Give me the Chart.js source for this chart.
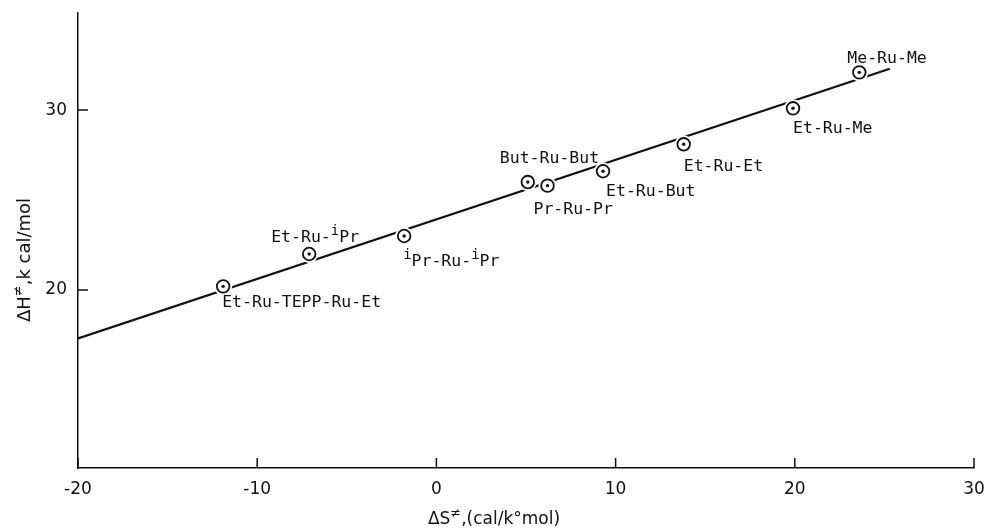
<!DOCTYPE html>
<html>
<head>
<meta charset="utf-8">
<script src="https://cdn.jsdelivr.net/npm/chart.js@4.4.0/dist/chart.umd.min.js"></script>
<style>
  html, body { margin: 0; background: #fff; }
  #wrap { width: 987px; height: 531px; }
</style>
</head>
<body>
<div id="wrap"><canvas id="chart"></canvas></div>
<script>
// ---------------------------
// Data
// ---------------------------
const complexes = ["Et-Ru-TEPP-Ru-Et", "Et-Ru-^iPr", "^iPr-Ru-^iPr", "But-Ru-But", "Pr-Ru-Pr",
                   "Et-Ru-But", "Et-Ru-Et", "Et-Ru-Me", "Me-Ru-Me"];
const entropyS  = [-11.9, -7.1, -1.8, 5.1, 6.2, 9.3, 13.8, 19.9, 23.6];
const enthalpyH = [20.2, 22.0, 23.0, 26.0, 25.8, 26.6, 28.1, 30.1, 32.1];

// fitted line, end points
const fitS = [-20, 25.3];
const fitH = [17.3, 32.3];

const xTicks = [-20, -10, 0, 10, 20, 30];
const yTicks = [20, 30];

const xTitle = "ΔS^≠,(cal/k°mol)";
const yTitle = "ΔH^≠,k cal/mol";

// label placement relative to each point (px): dx to left edge, dy to text middle
const labelOffsets = [[-1, 16], [-38, -16], [-1, 26], [-28, -23], [-14, 24],
                      [3, 20], [0, 22], [0, 20], [-12, -14]];

const INK = "#111";
const points = entropyS.map((x, i) => ({ x, y: enthalpyH[i] }));
const fitPts = fitS.map((x, i) => ({ x, y: fitH[i] }));

// ---------------------------
// Text helpers (^c = raised char)
// ---------------------------
function richParts(text){
  return text.split(/(\^.)/).filter(Boolean);
}

function richWidth(ctx, text, size, family, supSize){
  let w = 0;
  for(const p of richParts(text)){
    if(p[0] === "^"){ ctx.font = `${supSize}px ${family}`; w += ctx.measureText(p[1]).width; }
    else { ctx.font = `${size}px ${family}`; w += ctx.measureText(p).width; }
  }
  return w;
}

function drawRich(ctx, text, x, y, size, family, supSize, rise){
  let cx = x;
  for(const p of richParts(text)){
    if(p[0] === "^"){
      ctx.font = `${supSize}px ${family}`;
      ctx.fillText(p[1], cx, y - rise);
      cx += ctx.measureText(p[1]).width;
    }else{
      ctx.font = `${size}px ${family}`;
      ctx.fillText(p, cx, y);
      cx += ctx.measureText(p).width;
    }
  }
}

// ---------------------------
// Plugin: inward ticks, point labels, axis titles
// ---------------------------
const decor = {
  id: "decor",
  afterDraw(chart){
    const ctx = chart.ctx;
    const xs = chart.scales.x, ys = chart.scales.y;
    const area = chart.chartArea;

    ctx.save();
    ctx.strokeStyle = INK;
    ctx.lineWidth = 1.5;
    ctx.beginPath();
    for(const v of xTicks){
      const px = xs.getPixelForValue(v);
      ctx.moveTo(px, area.bottom);
      ctx.lineTo(px, area.bottom - 10);
    }
    for(const v of yTicks){
      const py = ys.getPixelForValue(v);
      ctx.moveTo(area.left, py);
      ctx.lineTo(area.left + 10, py);
    }
    ctx.stroke();

    // point labels
    ctx.fillStyle = INK;
    ctx.textBaseline = "middle";
    ctx.textAlign = "left";
    const meta = chart.getDatasetMeta(2);
    meta.data.forEach((el, i) => {
      const [dx, dy] = labelOffsets[i];
      drawRich(ctx, complexes[i], el.x + dx, el.y + dy, 16.5, '"DejaVu Sans Mono"', 14, 7);
    });

    // x title
    const fam = '"DejaVu Sans"';
    const wx = richWidth(ctx, xTitle, 17, fam, 13);
    drawRich(ctx, xTitle, 494 - wx / 2, 520, 17, fam, 13, 6);

    // y title
    ctx.translate(25, 260);
    ctx.rotate(-Math.PI / 2);
    const wy = richWidth(ctx, yTitle, 18, fam, 13);
    drawRich(ctx, yTitle, -wy / 2, 0, 18, fam, 13, 6);
    ctx.restore();
  }
};

// ---------------------------
// Chart
// ---------------------------
new Chart(document.getElementById("chart"), {
  type: "scatter",
  data: {
    datasets: [
      { data: fitPts, showLine: true, borderColor: INK, borderWidth: 2.2,
        pointRadius: 0, order: 4 },
      { data: points, pointRadius: 9, backgroundColor: "#fff", borderWidth: 0, order: 3 },
      { data: points, pointRadius: 6.3, backgroundColor: "#fff", borderColor: INK,
        borderWidth: 1.8, order: 2 },
      { data: points, pointRadius: 1.7, backgroundColor: INK, borderWidth: 0, order: 1 }
    ]
  },
  options: {
    responsive: true,
    maintainAspectRatio: false,
    animation: false,
    layout: { padding: { top: 13, right: 13, left: 0, bottom: 0 } },
    plugins: { legend: { display: false }, tooltip: { enabled: false } },
    scales: {
      x: {
        type: "linear", min: -20, max: 30,
        afterBuildTicks: s => { s.ticks = xTicks.map(v => ({ value: v })); },
        afterFit: s => { s.height = 63; s.paddingLeft = 0; s.paddingRight = 0; },
        grid: { display: false },
        border: { display: true, color: INK, width: 1.5 },
        ticks: { color: INK, padding: 3, maxRotation: 0,
                 font: { family: "DejaVu Sans", size: 17 } }
      },
      y: {
        type: "linear", min: 10.1, max: 35.4,
        afterBuildTicks: s => { s.ticks = yTicks.map(v => ({ value: v })); },
        afterFit: s => { s.width = 78; s.paddingTop = 0; s.paddingBottom = 0; },
        grid: { display: false },
        border: { display: true, color: INK, width: 1.5 },
        ticks: { color: INK, padding: 3,
                 font: { family: "DejaVu Sans", size: 17 } }
      }
    }
  },
  plugins: [decor]
});
</script>
</body>
</html>
